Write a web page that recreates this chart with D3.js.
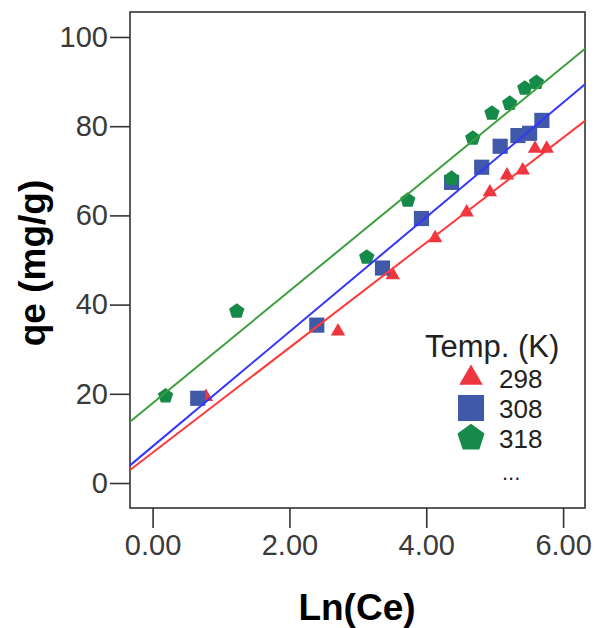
<!DOCTYPE html>
<html>
<head>
<meta charset="utf-8">
<script src="https://cdn.jsdelivr.net/npm/d3@7"></script>
<style>
  body { margin: 0; background: #fff; }
  svg { display: block; font-family: "Liberation Sans", Arial, sans-serif; }
  .tick text { fill: #3a3a3a; font-size: 29px; }
  .tick line { stroke: #333; stroke-width: 1.6; }
</style>
</head>
<body>
<div class="container"></div>
<script>
const WIDTH = 595;
const HEIGHT = 628;

// series values
var temps = ["298", "308", "318"];
var lnCe298 = [0.78, 2.71, 3.51, 4.13, 4.59, 4.93, 5.18, 5.41, 5.59, 5.76];
var qe298   = [19.3, 34.0, 46.6, 54.9, 60.7, 65.2, 69.0, 70.1, 75.0, 75.0];
var lnCe308 = [0.66, 2.40, 3.36, 3.93, 4.37, 4.81, 5.08, 5.34, 5.51, 5.69];
var qe308   = [19.0, 35.4, 48.2, 59.3, 67.4, 70.8, 75.5, 77.9, 78.4, 81.3];
var lnCe318 = [0.19, 1.23, 3.13, 3.73, 4.37, 4.68, 4.96, 5.22, 5.44, 5.61];
var qe318   = [19.5, 38.5, 50.6, 63.4, 68.3, 77.3, 82.9, 85.1, 88.5, 89.8];
// fitted lines: qe = a + b * ln(Ce)
var fitIntercepts = [6.8, 8.2, 17.9];
var fitSlopes = [11.77, 12.85, 12.57];
var xTicks = [0, 2, 4, 6];
var yTicks = [0, 20, 40, 60, 80, 100];

var translate = function(x, y){
  return "translate(" + x + "," + y + ")";
};

// pentagon symbol, d3 has none
var symbolPentagon = {
  draw: function(context, size){
    var r = Math.sqrt(size / 2.378);
    for (var i = 0; i < 5; i++) {
      var a = -Math.PI / 2 + i * 2 * Math.PI / 5;
      if (i === 0) context.moveTo(r * Math.cos(a), r * Math.sin(a));
      else context.lineTo(r * Math.cos(a), r * Math.sin(a));
    }
    context.closePath();
  }
};

var series = [
  {name: temps[0], x: lnCe298, y: qe298, shape: d3.symbolTriangle, fill: "#ee3540", line: "#ff3a3a", size: 90, legendSize: 240},
  {name: temps[1], x: lnCe308, y: qe308, shape: d3.symbolSquare, fill: "#4059a8", line: "#3535ff", size: 230, legendSize: 680},
  {name: temps[2], x: lnCe318, y: qe318, shape: symbolPentagon, fill: "#168a48", line: "#3d9e3d", size: 155, legendSize: 480}
];

var svg = d3.select(".container").append("svg")
  .attr("width", WIDTH)
  .attr("height", HEIGHT);

var xScale = d3.scaleLinear().domain([-0.33, 6.32]).range([130, 585]);
var yScale = d3.scaleLinear().domain([-5.6, 105.6]).range([508, 12]);

var yAxis = d3.axisLeft(yScale).tickValues(yTicks).tickSize(20).tickPadding(2);
var xAxis = d3.axisBottom(xScale).tickValues(xTicks).tickSize(20).tickPadding(6)
  .tickFormat(d3.format(".2f"));

svg.append("g").attr("transform", translate(130, 0)).call(yAxis)
  .call(function(g){ g.select(".domain").remove(); });
svg.append("g").attr("transform", translate(0, 508)).call(xAxis)
  .call(function(g){ g.select(".domain").remove(); });

// frame
svg.append("rect")
  .attr("x", 130).attr("y", 12)
  .attr("width", 455).attr("height", 496)
  .attr("fill", "none").attr("stroke", "#333").attr("stroke-width", 1.6);

// points
series.forEach(function(s){
  svg.append("g").selectAll("path")
    .data(s.x.map(function(v, i){ return [v, s.y[i]]; }))
    .enter().append("path")
    .attr("transform", function(d){ return translate(xScale(d[0]), yScale(d[1])); })
    .attr("d", d3.symbol().type(s.shape).size(s.size))
    .attr("fill", s.fill);
});

// fit lines over the points
var xd = xScale.domain();
series.forEach(function(s, i){
  var line = d3.line()
    .x(function(d){ return xScale(d); })
    .y(function(d){ return yScale(fitIntercepts[i] + fitSlopes[i] * d); });
  svg.append("path")
    .attr("d", line(xd))
    .attr("fill", "none")
    .attr("stroke", s.line)
    .attr("stroke-width", 2);
});

// axis titles
svg.append("text")
  .attr("x", 357).attr("y", 620)
  .attr("text-anchor", "middle")
  .attr("font-size", 37).attr("font-weight", "bold")
  .text("Ln(Ce)");

svg.append("text")
  .attr("transform", translate(45, 263) + " rotate(-90)")
  .attr("text-anchor", "middle")
  .attr("font-size", 37).attr("font-weight", "bold")
  .text("qe (mg/g)");

// legend
var legend = svg.append("g");
legend.append("text")
  .attr("x", 425).attr("y", 357)
  .attr("font-size", 31).attr("fill", "#222")
  .text("Temp. (K)");

series.forEach(function(s, i){
  var ly = 378 + i * 30;
  legend.append("path")
    .attr("transform", translate(471, ly))
    .attr("d", d3.symbol().type(s.shape).size(s.legendSize))
    .attr("fill", s.fill);
  legend.append("text")
    .attr("x", 499).attr("y", ly + 10)
    .attr("font-size", 26).attr("fill", "#222")
    .text(s.name);
});
legend.append("text")
  .attr("x", 502).attr("y", 480)
  .attr("font-size", 22).attr("fill", "#222")
  .text("...");
</script>
</body>
</html>
